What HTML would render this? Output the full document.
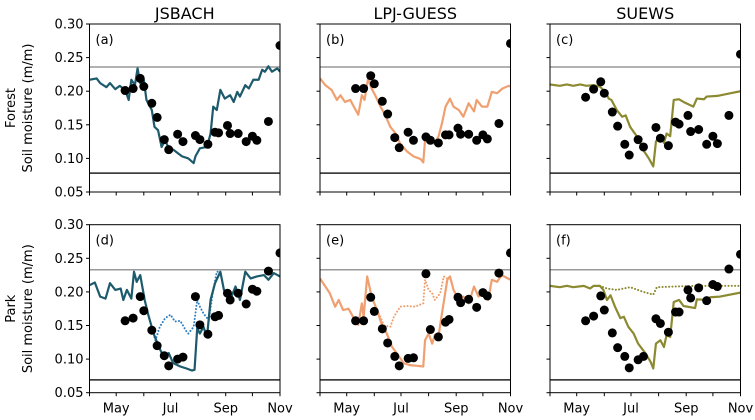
<!DOCTYPE html>
<html><head><meta charset="utf-8"><style>
html,body{margin:0;padding:0;background:#fff;}
svg{display:block;font-family:"DejaVu Sans","Liberation Sans",sans-serif;}
</style></head><body>
<svg id="chart" width="755" height="420" viewBox="0 0 755 420" xmlns="http://www.w3.org/2000/svg"></svg>
<script>
// ---- data ----
const obsDays = [40,49,57,61,70,76,84,89,99,105,119,124,133,141,145,155,158,167,176,183,188,201,214];
const obsForestJS = [0.201,0.204,0.219,0.207,0.182,0.161,0.128,0.113,0.136,0.125,0.134,0.128,0.121,0.139,0.138,0.149,0.137,0.137,0.125,0.133,0.127,0.155,0.268];
const obsForestLPJ = [0.204,0.204,0.223,0.211,0.185,0.166,0.131,0.116,0.139,0.127,0.132,0.127,0.123,0.135,0.135,0.145,0.136,0.136,0.127,0.135,0.129,0.152,0.271];
const obsForestSU = [0.191,0.203,0.214,0.197,0.169,0.148,0.121,0.105,0.128,0.117,0.146,0.130,0.119,0.154,0.151,0.164,0.140,0.143,0.121,0.133,0.122,0.164,0.255];
const obsParkJS = [0.157,0.161,0.193,0.172,0.143,0.120,0.105,0.090,0.100,0.103,0.193,0.151,0.137,0.163,0.165,0.198,0.188,0.198,0.182,0.204,0.201,0.231,0.258];
const obsParkLPJ = [0.157,0.157,0.192,0.171,0.145,0.124,0.104,0.090,0.101,0.102,0.227,0.144,0.133,0.155,0.159,0.192,0.184,0.189,0.177,0.199,0.194,0.228,0.258];
const obsParkSU = [0.157,0.164,0.194,0.173,0.139,0.117,0.104,0.087,0.099,0.104,0.160,0.153,0.140,0.170,0.170,0.203,0.191,0.206,0.187,0.211,0.208,0.234,0.256];

const jsForestDays = [0,8,12,19,23,29,34,40,44,47,51,54,57,61,64,70,73,77,81,85,89,94,104,111,117,119,124,132,136,139,143,147,152,158,162,166,169,175,179,184,190,194,197,201,205,211,214];
const jsForestVals = [0.217,0.219,0.212,0.206,0.212,0.203,0.208,0.202,0.187,0.217,0.209,0.234,0.212,0.217,0.187,0.172,0.147,0.142,0.117,0.127,0.115,0.113,0.103,0.100,0.093,0.103,0.115,0.117,0.137,0.177,0.172,0.202,0.189,0.194,0.184,0.199,0.192,0.209,0.204,0.217,0.217,0.232,0.229,0.237,0.229,0.234,0.229];
const jsParkDays = [0,6,12,18,23,29,35,38,42,47,50,53,57,62,66,72,78,83,89,94,102,109,115,118,121,124,128,132,136,141,147,151,158,164,169,175,181,188,196,201,207,214];
const jsParkVals = [0.210,0.214,0.193,0.190,0.213,0.203,0.205,0.188,0.203,0.190,0.230,0.215,0.225,0.188,0.166,0.138,0.118,0.104,0.109,0.094,0.089,0.086,0.083,0.084,0.146,0.138,0.148,0.133,0.188,0.213,0.230,0.203,0.188,0.208,0.188,0.230,0.220,0.223,0.225,0.218,0.228,0.223];
const jsParkDotDays = [66,74,79,85,91,96,102,108,111,117,121,124,128,134,139,143,147];
const jsParkDotVals = [0.166,0.128,0.148,0.161,0.166,0.156,0.157,0.143,0.138,0.148,0.188,0.178,0.168,0.158,0.203,0.230,0.230];

const lpjForestDays = [0,6,13,19,23,28,34,38,43,47,50,54,58,62,68,73,79,85,90,98,105,113,116,118,124,128,133,137,141,146,150,156,161,167,173,176,182,188,193,199,205,212,214];
const lpjForestVals = [0.219,0.209,0.202,0.187,0.194,0.184,0.187,0.177,0.165,0.194,0.187,0.219,0.204,0.194,0.177,0.165,0.147,0.137,0.122,0.110,0.103,0.099,0.094,0.127,0.132,0.122,0.132,0.152,0.177,0.189,0.177,0.172,0.162,0.182,0.170,0.187,0.177,0.177,0.199,0.197,0.204,0.208,0.207];
const lpjParkDays = [0,6,11,17,21,26,32,38,43,47,49,53,58,64,69,75,81,86,94,101,109,116,118,122,126,129,133,137,143,146,150,156,161,167,173,178,184,189,193,199,204,214];
const lpjParkVals = [0.220,0.208,0.198,0.178,0.188,0.173,0.175,0.161,0.151,0.183,0.163,0.223,0.193,0.173,0.153,0.138,0.118,0.109,0.094,0.091,0.090,0.089,0.128,0.138,0.123,0.136,0.133,0.168,0.218,0.223,0.203,0.188,0.193,0.183,0.208,0.193,0.198,0.188,0.218,0.215,0.225,0.218];
const lpjParkDotDays = [66,72,79,83,90,98,107,116,118,122,126,129,135,139,143];
const lpjParkDotVals = [0.168,0.150,0.148,0.163,0.178,0.179,0.178,0.183,0.218,0.203,0.198,0.188,0.198,0.223,0.220];

const suForestDays = [0,11,19,26,34,41,49,56,62,66,69,75,81,85,90,98,105,111,116,119,124,128,131,135,139,145,150,161,165,173,176,188,203,214];
const suForestVals = [0.210,0.208,0.210,0.208,0.210,0.208,0.209,0.207,0.199,0.189,0.187,0.172,0.162,0.164,0.147,0.132,0.112,0.100,0.088,0.125,0.135,0.123,0.137,0.133,0.187,0.188,0.184,0.177,0.189,0.188,0.192,0.193,0.197,0.200];
const suParkDays = [0,11,19,26,38,45,49,56,60,64,68,73,79,83,88,94,99,107,113,116,119,124,128,131,135,139,145,150,163,165,176,180,191,214];
const suParkVals = [0.209,0.207,0.209,0.207,0.209,0.205,0.209,0.209,0.203,0.188,0.195,0.178,0.161,0.163,0.148,0.138,0.123,0.109,0.096,0.086,0.123,0.128,0.118,0.136,0.133,0.185,0.188,0.179,0.176,0.189,0.188,0.192,0.193,0.199];
const suParkDotDays = [56,64,75,90,105,116,120,139,165,214];
const suParkDotVals = [0.209,0.205,0.203,0.207,0.200,0.196,0.207,0.208,0.209,0.209];

const fieldCap = [0.236, 0.233];
const wiltPt = [0.078, 0.069];
const yTicks = [0.05,0.10,0.15,0.20,0.25,0.30];
const yTickLabels = ["0.05","0.10","0.15","0.20","0.25","0.30"];
const monthDays = [0,30,61,91,122,153,183,214];
const xLabelDays = [30,91,153,214];
const xLabels = ["May","Jul","Sep","Nov"];
const models = ["JSBACH","LPJ-GUESS","SUEWS"];
const rowsNames = ["Forest","Park"];
const panelLetters = [["(a)","(b)","(c)"],["(d)","(e)","(f)"]];

const colors = ["#1c5a6c","#f0a070","#8c8a30"];
const dotColors = ["#2f7fc0","#f0a070","#8c8a30"];
const panels = [
  [{obs:obsForestJS, d:jsForestDays, v:jsForestVals},{obs:obsForestLPJ, d:lpjForestDays, v:lpjForestVals},{obs:obsForestSU, d:suForestDays, v:suForestVals}],
  [{obs:obsParkJS, d:jsParkDays, v:jsParkVals, dd:jsParkDotDays, dv:jsParkDotVals},{obs:obsParkLPJ, d:lpjParkDays, v:lpjParkVals, dd:lpjParkDotDays, dv:lpjParkDotVals},{obs:obsParkSU, d:suParkDays, v:suParkVals, dd:suParkDotDays, dv:suParkDotVals}]
];

// ---- layout ----
const NS = "http://www.w3.org/2000/svg";
const svg = document.getElementById("chart");
const px0 = [89.5, 320, 550], pw = 190.5;
const py0 = [24, 224.7], ph = 168;
function mk(tag, attrs, parent){ const e=document.createElementNS(NS,tag); for(const k in attrs) e.setAttribute(k,attrs[k]); (parent||svg).appendChild(e); return e; }

const defs = mk("defs",{});
for(let r=0;r<2;r++){
  for(let c=0;c<3;c++){
    const X=px0[c], Y=py0[r];
    const xs = d => X + d/214*pw;
    const ys = v => Y + (0.30-v)/0.25*ph;
    const cp = mk("clipPath",{id:"clip"+r+c},defs);
    mk("rect",{x:X,y:Y,width:pw,height:ph},cp);
    const g = mk("g",{});
    
    
    const pg = mk("g",{"clip-path":"url(#clip"+r+c+")"},g);
    const fc = mk("line",{x1:X,x2:X+pw,y1:ys(fieldCap[r]),y2:ys(fieldCap[r]),stroke:"#999",'stroke-width':1.5},pg);
    
    
    const wp = mk("line",{x1:X,x2:X+pw,y1:ys(wiltPt[r]),y2:ys(wiltPt[r]),stroke:"#222",'stroke-width':1.5},pg);
    
    
    const p = panels[r][c];
    if(p.dd){
      const dl = mk("polyline",{points:p.dd.map((d,i)=>xs(d)+","+ys(p.dv[i])).join(" "),fill:"none",stroke:dotColors[c],'stroke-width':2,'stroke-dasharray':'0.1,3.2','stroke-linecap':'round'},pg);
      
      
    }
    const ln = mk("polyline",{points:p.d.map((d,i)=>xs(d)+","+ys(p.v[i])).join(" "),fill:"none",stroke:colors[c],'stroke-width':2.2,'stroke-linejoin':'round'},pg);
    
    
    p.obs.forEach((v,i)=>{
      const dot = mk("circle",{cx:xs(obsDays[i]),cy:ys(v),r:4.5,fill:"#000"},pg);
      
      
    });
    const fr = mk("rect",{x:X,y:Y,width:pw,height:ph,fill:"none",stroke:"#000",'stroke-width':1},g);
    
    
    yTicks.forEach((t,i)=>{
      mk("line",{x1:X-3.5,x2:X,y1:ys(t),y2:ys(t),stroke:"#000",'stroke-width':1},g);
      if(c===0){
        const tl = mk("text",{x:X-6,y:ys(t)+4.5,'text-anchor':'end','font-size':13,fill:"#000"},g);
        tl.textContent = yTickLabels[i];
        
        
      }
    });
    monthDays.forEach(d=>{ mk("line",{x1:xs(d),x2:xs(d),y1:Y+ph,y2:Y+ph+3.5,stroke:"#000",'stroke-width':1},g); });
    if(r===1){
      xLabelDays.forEach((d,i)=>{
        const xl = mk("text",{x:xs(d),y:Y+ph+20,'text-anchor':'middle','font-size':13,fill:"#000"},g);
        xl.textContent = xLabels[i];
        
        
      });
    }
    const pl = mk("text",{x:X+6,y:Y+20,'font-size':13,fill:"#000"},g);
    pl.textContent = panelLetters[r][c];
    
    
    if(r===0){
      const tt = mk("text",{x:X+pw/2,y:19,'text-anchor':'middle','font-size':16,fill:"#000"},g);
      tt.textContent = models[c];
      
      
    }
  }
  const cy = py0[r]+ph/2;
  const t1 = mk("text",{x:15,y:cy,'text-anchor':'middle','font-size':13,transform:"rotate(-90 15 "+cy+")"});
  t1.textContent = rowsNames[r];
  
  
  const t2 = mk("text",{x:32,y:cy,'text-anchor':'middle','font-size':13,transform:"rotate(-90 32 "+cy+")"});
  t2.textContent = "Soil moisture (m/m)";
  
  
}
</script>
</body></html>
